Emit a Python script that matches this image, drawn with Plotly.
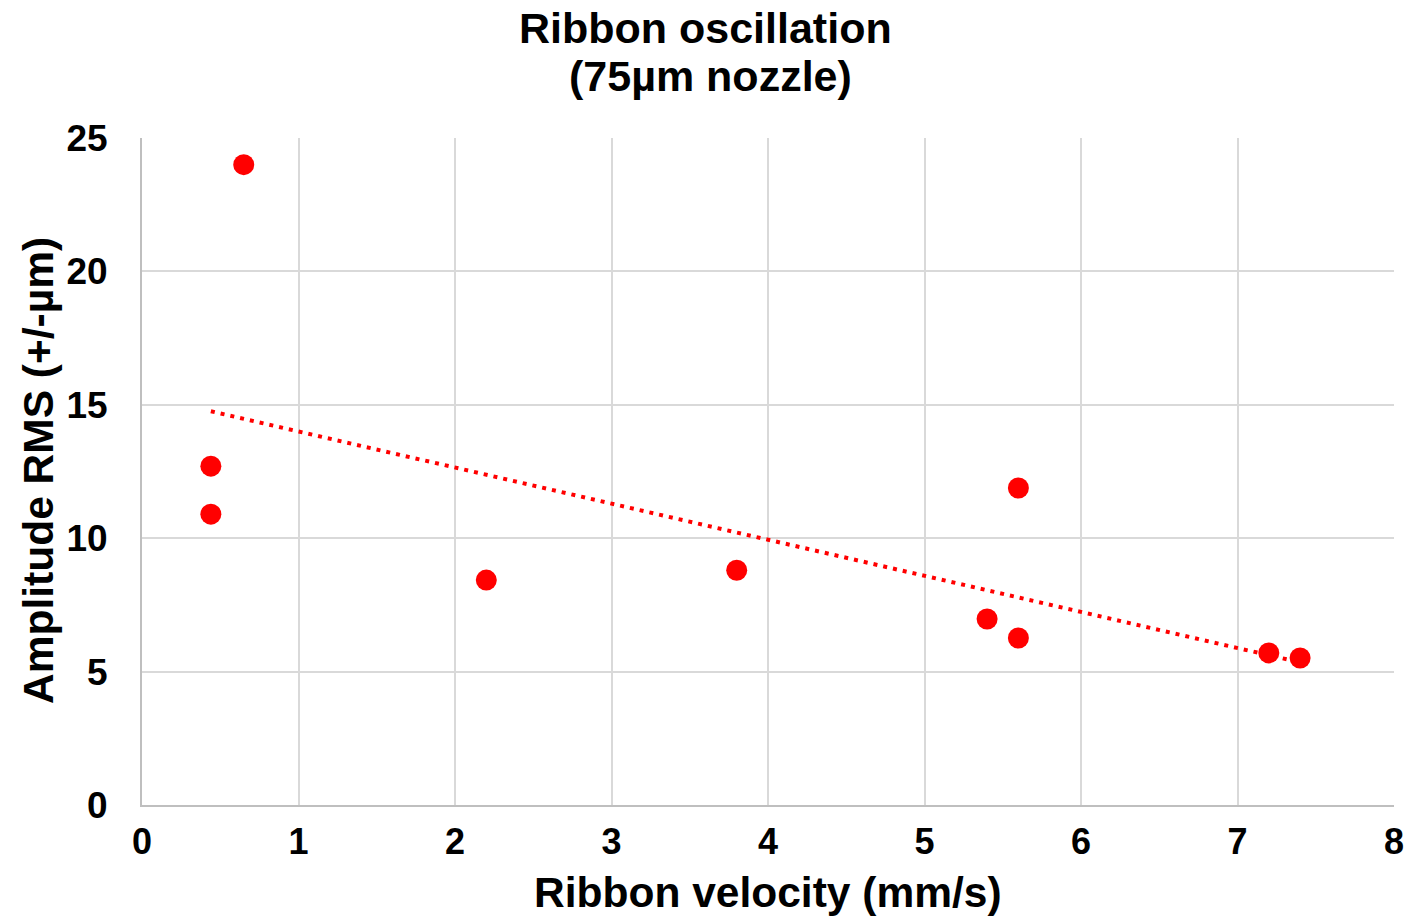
import numpy as np
import plotly.graph_objects as go

velocity = [0.65, 0.44, 0.44, 2.2, 3.8, 5.4, 5.6, 5.6, 7.2, 7.4]
amplitude = [24.0, 12.7, 10.9, 8.43, 8.8, 6.97, 11.88, 6.26, 5.7, 5.51]

title_lines = ["Ribbon oscillation", "(75µm nozzle)"]
x_title = "Ribbon velocity (mm/s)"
y_title = "Amplitude RMS (+/-µm)"

# linear trendline (least squares) from the data
slope, intercept = np.polyfit(velocity, amplitude, 1)
tx = [min(velocity), max(velocity)]
ty = [slope * v + intercept for v in tx]

FONT = "Liberation Sans, Arial, sans-serif"
W, H = 1407, 920
L, T = 142, 138
R = W - 1394
B = H - 805
PW, PH = W - L - R, H - T - B


def px_to_paper_x(px):
    return (px - L) / PW


def px_to_paper_y(py):
    return (H - B - py) / PH


fig = go.Figure()
fig.add_trace(go.Scatter(
    x=tx, y=ty, mode="lines",
    line=dict(color="#ff0000", width=4, dash="4px,6px"),
    hoverinfo="skip", showlegend=False,
))
fig.add_trace(go.Scatter(
    x=velocity, y=amplitude, mode="markers",
    marker=dict(color="#ff0000", size=21, line=dict(width=0)),
    showlegend=False,
))

annotations = []
for line, py, pxc in zip(title_lines, [28, 76], [705, 710]):
    annotations.append(dict(
        text="<b>" + line + "</b>", xref="paper", yref="paper",
        x=px_to_paper_x(pxc), y=px_to_paper_y(py),
        xanchor="center", yanchor="middle", showarrow=False,
        font=dict(size=43, family=FONT, color="black"),
    ))
annotations.append(dict(
    text="<b>" + x_title + "</b>", xref="paper", yref="paper",
    x=px_to_paper_x(768), y=px_to_paper_y(893),
    xanchor="center", yanchor="middle", showarrow=False,
    font=dict(size=42.5, family=FONT, color="black"),
))
annotations.append(dict(
    text="<b>" + y_title + "</b>", xref="paper", yref="paper",
    x=px_to_paper_x(38), y=px_to_paper_y(471),
    xanchor="center", yanchor="middle", showarrow=False, textangle=-90,
    font=dict(size=42.5, family=FONT, color="black"),
))

fig.update_layout(
    width=W, height=H,
    margin=dict(l=L, r=R, t=T, b=B, autoexpand=False),
    paper_bgcolor="white", plot_bgcolor="white",
    font=dict(family=FONT, color="black"),
    annotations=annotations,
)
fig.update_xaxes(
    range=[0, 8], dtick=1, tick0=0,
    showgrid=True, gridcolor="#d9d9d9", gridwidth=2,
    showline=True, linecolor="#bfbfbf", linewidth=2,
    zeroline=False, ticks="", ticklabelstandoff=4, automargin=False,
    ticklabeloverflow="allow",
    tickfont=dict(size=36, family=FONT, color="black", weight="bold"),
)
fig.update_yaxes(
    range=[0, 25], dtick=5, tick0=0,
    showgrid=True, gridcolor="#d9d9d9", gridwidth=2,
    showline=True, linecolor="#bfbfbf", linewidth=2,
    zeroline=False, ticks="", ticklabelstandoff=25, automargin=False,
    ticklabeloverflow="allow",
    tickfont=dict(size=37, family=FONT, color="black", weight="bold"),
)

fig.write_html(
    "out.html",
    config={"displayModeBar": False},
    post_script="document.body.style.margin='0';document.body.style.overflow='hidden';",
)
